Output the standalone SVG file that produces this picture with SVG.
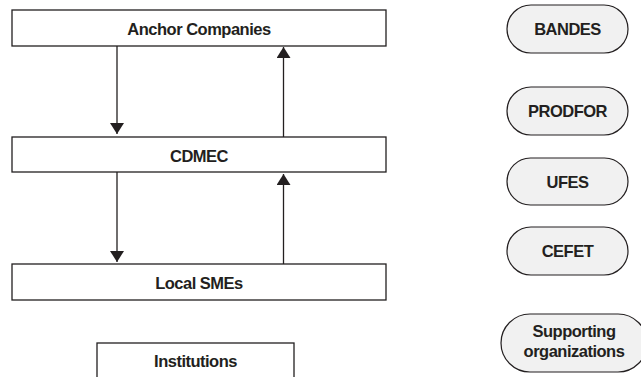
<svg xmlns="http://www.w3.org/2000/svg" width="641" height="377" viewBox="0 0 641 377">
<style>
.box{fill:#ffffff;stroke:#231f20;stroke-width:1.3}
.pill{fill:#f1f1f1;stroke:#231f20;stroke-width:1.2}
.t{font-family:"Liberation Sans",Arial,sans-serif;font-weight:bold;font-size:16.5px;letter-spacing:-0.5px;fill:#231f20;text-anchor:middle}
.c{stroke:#231f20;stroke-width:1.3;fill:none}
</style>
<defs>
<marker id="ah" viewBox="0 0 11 14" refX="11" refY="7" markerWidth="11" markerHeight="14" markerUnits="userSpaceOnUse" orient="auto">
<path d="M0,0 L11,7 L0,14 Z" fill="#231f20"/>
</marker>
</defs>
<rect width="641" height="377" fill="#ffffff"/>
<g id="anchor">
<rect class="box" x="12" y="10" width="374" height="36"/>
<text class="t" x="199" y="35">Anchor Companies</text>
</g>
<g id="cdmec">
<rect class="box" x="12" y="137" width="374" height="35"/>
<text class="t" x="199" y="161.5">CDMEC</text>
</g>
<g id="smes">
<rect class="box" x="12" y="264" width="374" height="36"/>
<text class="t" x="199" y="288.5">Local SMEs</text>
</g>
<g id="institutions">
<rect class="box" x="97" y="343" width="197" height="45"/>
<text class="t" x="195.5" y="366.5">Institutions</text>
</g>
<g id="bandes">
<rect class="pill" x="507" y="5" width="121" height="48" rx="24" ry="24"/>
<text class="t" x="567.5" y="35">BANDES</text>
</g>
<g id="prodfor">
<rect class="pill" x="507" y="87" width="121" height="48" rx="24" ry="24"/>
<text class="t" x="567.5" y="117">PRODFOR</text>
</g>
<g id="ufes">
<rect class="pill" x="507" y="158" width="121" height="47" rx="23.5" ry="23.5"/>
<text class="t" x="567.5" y="188">UFES</text>
</g>
<g id="cefet">
<rect class="pill" x="507" y="227" width="121" height="48" rx="24" ry="24"/>
<text class="t" x="567.5" y="257">CEFET</text>
</g>
<g id="supporting">
<rect class="pill" x="501" y="314" width="146" height="58" rx="29" ry="29"/>
<text class="t" x="574" y="337">Supporting</text>
<text class="t" x="574" y="357">organizations</text>
</g>
<g id="connectors">
<line class="c" x1="117" y1="46" x2="117" y2="134" marker-end="url(#ah)"/>
<line class="c" x1="283.5" y1="137" x2="283.5" y2="47" marker-end="url(#ah)"/>
<line class="c" x1="117" y1="172" x2="117" y2="262" marker-end="url(#ah)"/>
<line class="c" x1="283.5" y1="264" x2="283.5" y2="174" marker-end="url(#ah)"/>
</g>
</svg>
